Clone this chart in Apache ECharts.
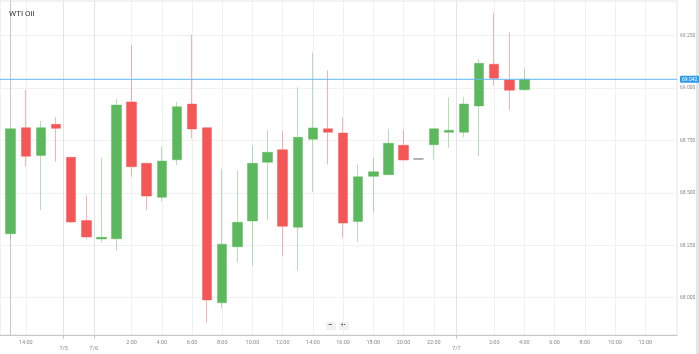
<!DOCTYPE html>
<html>
<head>
<meta charset="utf-8">
<script src="https://cdn.jsdelivr.net/npm/echarts@6/dist/echarts.min.js"></script>
<style>
html,body{margin:0;padding:0;background:#fff;}
#chart{width:699px;height:354px;}
</style>
</head>
<body>
<div id="chart"></div>
<script>
// Hourly candles (slot index = position on the compressed time axis)
const opens  = [68.305,68.811,68.679,68.827,68.670,68.368,68.280,68.281,68.934,68.641,68.479,68.658,68.924,68.811,67.976,68.243,68.366,68.646,68.706,68.336,68.756,68.806,68.786,68.364,68.579,68.587,68.727,68.662,68.730,68.789,68.789,68.915,69.114,69.039,68.992];
const closes = [68.806,68.675,68.811,68.808,68.361,68.290,68.288,68.919,68.625,68.485,68.652,68.911,68.805,67.989,68.255,68.360,68.641,68.694,68.341,68.765,68.810,68.789,68.356,68.577,68.601,68.737,68.657,68.662,68.806,68.799,68.924,69.118,69.047,68.990,69.042];
const lows   = [68.281,68.625,68.418,68.649,68.358,68.279,68.262,68.224,68.577,68.418,68.458,68.633,68.760,67.881,67.948,68.167,68.153,68.371,68.199,68.129,68.504,68.636,68.286,68.267,68.406,68.585,68.654,68.662,68.660,68.716,68.765,68.676,69.013,68.894,68.992];
const highs  = [68.814,68.991,68.843,68.861,68.672,68.488,68.667,68.947,69.206,68.645,68.720,68.934,69.255,68.813,68.615,68.606,68.727,68.800,68.795,69.004,69.169,69.085,68.861,68.636,68.667,68.806,68.800,68.662,68.807,68.956,68.956,69.139,69.360,69.266,69.095];

const timeTickSlots  = [1, 8, 10, 12, 14, 16, 18, 20, 22, 24, 26, 28, 32, 34, 36, 38, 40, 42];
const timeTickLabels = ['14:00','2:00','4:00','6:00','8:00','10:00','12:00','14:00','16:00','18:00','20:00','22:00','2:00','4:00','6:00','8:00','10:00','12:00'];
const dateTickSlots  = [3.5, 5.5, 29.5];
const dateTickLabels = ['7/5','7/6','7/7'];
const priceTicks = [68.000, 68.250, 68.500, 68.750, 69.000, 69.250];
const currentPrice = 69.042;

const chart = echarts.init(document.getElementById('chart'), null, {renderer:'canvas'});
const data = opens.map((o, i) => [i, o, closes[i], lows[i], highs[i]]);
const xMin = -0.71, xMax = 44.1;

function lookup(slots, labels){
  return v => { for (let k=0;k<slots.length;k++){ if (Math.abs(slots[k]-v)<1e-6) return labels[k]; } return ''; };
}

const option = {
  animation: false,
  textStyle: {fontFamily: 'Roboto'},
  title: {text: 'WTI Oil', left: 4, top: 5, textStyle: {fontSize: 8, fontWeight: 'normal', color: '#333', fontFamily:'Roboto'}},
  grid: {left: 0, right: 22, top: 1, bottom: 19, show: true, borderColor: '#e4e4e4', borderWidth: 1},
  xAxis: [
    {
      type: 'value', min: xMin, max: xMax,
      axisLine: {show: true, lineStyle: {color: '#c8c8c8'}},
      axisTick: {show: false, customValues: timeTickSlots},
      axisLabel: {customValues: timeTickSlots, formatter: lookup(timeTickSlots, timeTickLabels), fontSize: 5.5, color: '#8a8a8a', margin: 5},
      splitLine: {show: true, lineStyle: {color: '#f1f1f1', width: 1}}
    },
    {
      type: 'value', min: xMin, max: xMax, position: 'bottom',
      axisLine: {show: false},
      axisTick: {show: true, length: 4, customValues: dateTickSlots, lineStyle: {color: '#c8c8c8'}},
      axisLabel: {customValues: dateTickSlots, formatter: lookup(dateTickSlots, dateTickLabels), fontSize: 5.5, color: '#8a8a8a', margin: 11},
      splitLine: {show: true, lineStyle: {color: '#e3e3e3', width: 1}}
    }
  ],
  yAxis: {
    type: 'value', position: 'right', min: 67.822, max: 69.4156,
    axisLine: {show: true, lineStyle: {color: '#c8c8c8'}},
    axisTick: {show: false, customValues: priceTicks},
    axisLabel: {customValues: priceTicks, formatter: v => v.toFixed(3), fontSize: 5, color: '#8a8a8a', margin: 3},
    splitLine: {show: true, lineStyle: {color: '#f1f1f1', width: 1}}
  },
  series: [
    {
      type: 'candlestick',
      xAxisIndex: 0,
      data: data,
      encode: {x: 0, y: [1, 2, 3, 4]},
      barWidth: 10,
      itemStyle: {
        color: '#5cb85c', color0: '#f55757',
        borderColor: 'rgba(92,184,92,0.45)', borderColor0: 'rgba(245,87,87,0.45)',
        borderColorDoji: '#9a9a9a', borderWidth: 1
      }
    },
    {
      type: 'line',
      xAxisIndex: 0,
      data: [[xMin, currentPrice], [xMax, currentPrice]],
      showSymbol: false, symbol: 'none', silent: true, z: 5,
      lineStyle: {color: '#5db8f6', width: 1},
      itemStyle: {color: '#5db8f6'},
      endLabel: {show: true, distance: 3, formatter: p => p.value[1].toFixed(3), backgroundColor: '#2f9bef', color: '#fff', fontSize: 5, padding: [1, 2], borderRadius: 1}
    }
  ],
  graphic: [
    {type: 'rect', right: 0, top: 0, shape: {width: 3, height: 354}, style: {fill: '#e6e6e6'}},
    {type: 'rect', left: 326, top: 322, shape: {width: 10, height: 8}, style: {fill: '#f1f1f1'}},
    {type: 'rect', left: 339, top: 322, shape: {width: 10, height: 8}, style: {fill: '#f1f1f1'}},
    {type: 'text', left: 328, top: 321, style: {text: '−', fontSize: 8, fill: '#555', fontFamily: 'Roboto', fontWeight: 'bold'}},
    {type: 'text', left: 341, top: 321, style: {text: '+', fontSize: 8, fill: '#555', fontFamily: 'Roboto', fontWeight: 'bold'}}
  ]
};
chart.setOption(option);
</script>
</body>
</html>
